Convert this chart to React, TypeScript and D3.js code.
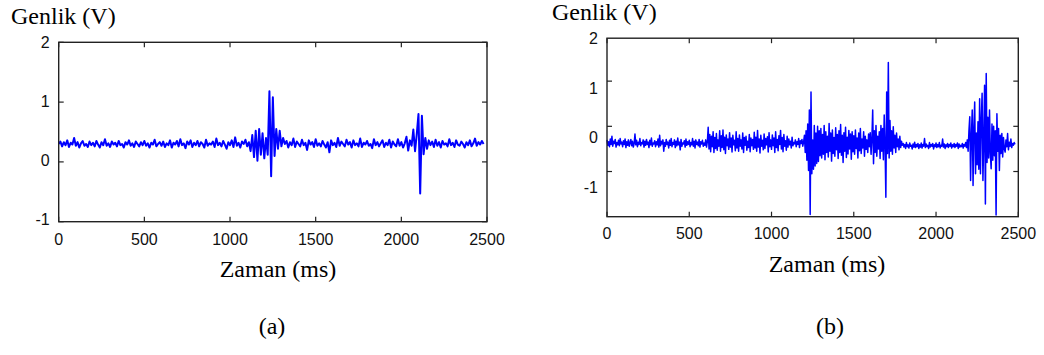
import React from "react";
import * as d3 from "d3";

// ---- data ----
const sampleStepA = 10; // ms between samples of signalA
const sampleStepB = 5; // ms between samples of signalB
const xTicks = [0, 500, 1000, 1500, 2000, 2500];
const yTicksA = [-1, 0, 1, 2];
const yTickMarksB = [-1, 0, 1];
const yTickLabelsB = [-1, 0, 1, 2];
const xLabelText = "Zaman (ms)";
const yLabelText = "Genlik (V)";
const captions = ["(a)", "(b)"];

// amplitude (V), every 10 ms from 0 to 2480 ms
const signalA = [
  0.30, 0.34, 0.26, 0.33, 0.28, 0.36, 0.25, 0.32, 0.29, 0.40,
  0.27, 0.33, 0.24, 0.31, 0.35, 0.27, 0.30, 0.25, 0.34, 0.28,
  0.32, 0.26, 0.35, 0.29, 0.24, 0.33, 0.28, 0.38, 0.27, 0.31,
  0.25, 0.34, 0.29, 0.32, 0.26, 0.35, 0.28, 0.30, 0.24, 0.33,
  0.29, 0.36, 0.27, 0.31, 0.25, 0.34, 0.30, 0.26, 0.33, 0.28,
  0.35, 0.27, 0.31, 0.24, 0.32, 0.29, 0.37, 0.26, 0.30, 0.33,
  0.27, 0.34, 0.25, 0.31, 0.28, 0.36, 0.24, 0.32, 0.29, 0.35,
  0.26, 0.38, 0.28, 0.31, 0.23, 0.34, 0.29, 0.36, 0.25, 0.32,
  0.28, 0.35, 0.26, 0.33, 0.30, 0.24, 0.37, 0.27, 0.31, 0.29,
  0.34, 0.25, 0.39, 0.28, 0.32, 0.26, 0.35, 0.29, 0.22, 0.33,
  0.28, 0.36, 0.25, 0.41, 0.27, 0.32, 0.24, 0.34, 0.30, 0.37,
  0.26, 0.33, 0.18, 0.45, 0.08, 0.52, 0.02, 0.55, 0.12, 0.48,
  0.06, 0.40, 0.12, 1.18, -0.24, 1.08, 0.10, 0.55, 0.22, 0.52,
  0.26, 0.40, 0.30, 0.35, 0.24, 0.33, 0.28, 0.39, 0.25, 0.34,
  0.30, 0.26, 0.37, 0.28, 0.32, 0.20, 0.36, 0.29, 0.33, 0.25,
  0.38, 0.27, 0.31, 0.26, 0.35, 0.29, 0.24, 0.33, 0.16, 0.36,
  0.28, 0.32, 0.25, 0.40, 0.27, 0.34, 0.30, 0.26, 0.37, 0.29,
  0.33, 0.24, 0.36, 0.28, 0.31, 0.26, 0.39, 0.25, 0.32, 0.29,
  0.35, 0.27, 0.30, 0.23, 0.38, 0.28, 0.33, 0.26, 0.31, 0.36,
  0.25, 0.32, 0.28, 0.37, 0.24, 0.34, 0.29, 0.26, 0.38, 0.27,
  0.33, 0.24, 0.31, 0.42, 0.19, 0.36, 0.27, 0.54, 0.18, 0.46,
  0.80, -0.53, 0.77, 0.13, 0.40, 0.22, 0.36, 0.28, 0.34, 0.25,
  0.37, 0.27, 0.33, 0.24, 0.35, 0.29, 0.31, 0.26, 0.38, 0.28,
  0.32, 0.25, 0.36, 0.29, 0.27, 0.34, 0.30, 0.24, 0.33, 0.28,
  0.36, 0.26, 0.31, 0.39, 0.27, 0.33, 0.29, 0.35, 0.30,
];

// amplitude (V), every 5 ms from 0 to 2480 ms (one row = 100 ms)
const signalB = [
  -0.30, -0.42, -0.34, -0.45, -0.28, -0.40, -0.22, -0.44, -0.33, -0.38, -0.29, -0.46, -0.36, -0.41, -0.31, -0.43, -0.27, -0.39, -0.35, -0.45,
  -0.32, -0.40, -0.28, -0.47, -0.34, -0.42, -0.30, -0.44, -0.37, -0.29, -0.43, -0.33, -0.46, -0.38, -0.17, -0.41, -0.31, -0.45, -0.35, -0.40,
  -0.27, -0.43, -0.36, -0.39, -0.30, -0.46, -0.33, -0.42, -0.29, -0.40, -0.35, -0.47, -0.31, -0.41, -0.26, -0.44, -0.37, -0.39, -0.32, -0.45,
  -0.34, -0.41, -0.28, -0.46, -0.20, -0.43, -0.33, -0.39, -0.30, -0.55, -0.36, -0.44, -0.29, -0.40, -0.35, -0.48, -0.31, -0.42, -0.27, -0.45,
  -0.36, -0.40, -0.30, -0.47, -0.33, -0.43, -0.26, -0.41, -0.35, -0.52, -0.29, -0.44, -0.37, -0.39, -0.32, -0.46, -0.28, -0.42, -0.34, -0.40,
  -0.31, -0.45, -0.36, -0.41, -0.27, -0.44, -0.33, -0.48, -0.30, -0.40, -0.35, -0.43, -0.29, -0.46, -0.34, -0.39, -0.31, -0.44, -0.37, -0.42,
  -0.30, -0.46, -0.34, -0.02, -0.50, -0.18, -0.56, -0.22, -0.45, -0.12, -0.58, -0.25, -0.49, -0.16, -0.53, -0.30, -0.44, -0.10, -0.55, -0.21,
  -0.47, -0.08, -0.52, -0.24, -0.60, -0.19, -0.43, -0.28, -0.51, -0.14, -0.46, -0.26, -0.57, -0.20, -0.41, -0.31, -0.54, -0.12, -0.48, -0.27,
  -0.55, -0.19, -0.44, -0.30, -0.50, -0.15, -0.58, -0.25, -0.42, -0.22, -0.53, -0.33, -0.47, -0.18, -0.56, -0.26, -0.43, -0.29, -0.51, -0.13,
  -0.48, -0.24, -0.55, -0.09, -0.46, -0.28, -0.59, -0.20, -0.44, -0.31, -0.52, -0.17, -0.49, -0.27, -0.41, -0.23, -0.57, -0.14, -0.45, -0.30,
  -0.51, -0.19, -0.43, -0.26, -0.58, -0.12, -0.47, -0.29, -0.54, -0.21, -0.40, -0.09, -0.50, -0.25, -0.56, -0.18, -0.44, -0.32, -0.53, -0.22,
  -0.46, -0.28, -0.41, -0.33, -0.48, -0.24, -0.43, -0.36, -0.39, -0.30, -0.45, -0.34, -0.40, -0.27, -0.47, -0.32, -0.38, -0.29, -0.44, -0.35,
  -0.20, -0.58, -0.10, -0.75, 0.05, -0.98, 0.36, -1.95, 0.76, -1.05, -0.30, -0.95, 0.02, -0.88, -0.15, -0.82, 0.00, -0.78, -0.10, -0.65,
  -0.05, -0.70, -0.18, -0.62, 0.02, -0.74, -0.12, -0.58, -0.22, -0.68, 0.06, -0.55, -0.15, -0.77, -0.08, -0.60, -0.25, -0.66, -0.03, -0.52,
  -0.18, -0.71, -0.10, -0.58, 0.04, -0.64, -0.20, -0.80, -0.14, -0.55, -0.02, -0.69, -0.24, -0.61, -0.09, -0.50, -0.17, -0.73, -0.12, -0.56,
  -0.21, -0.62, -0.08, -0.49, -0.26, -0.70, -0.15, -0.54, -0.05, -0.60, -0.28, -0.48, -0.12, -0.66, -0.22, -0.51, -0.30, -0.58, -0.17, -0.45,
  -0.14, -0.62, -0.28, 0.36, -0.83, -0.10, -0.58, 0.02, -0.66, -0.22, -0.50, -0.12, -0.71, 0.02, -0.55, -0.05, -0.74, 0.25, -0.40, -1.57,
  0.76, -0.60, 1.41, -0.70, 0.13, -0.55, -0.10, -0.62, -0.01, -0.48, -0.20, -0.58, -0.15, -0.45, -0.28, -0.52, -0.22, -0.47, -0.33, -0.42,
  -0.38, -0.46, -0.40, -0.49, -0.36, -0.45, -0.41, -0.48, -0.37, -0.44, -0.42, -0.50, -0.39, -0.46, -0.35, -0.47, -0.40, -0.45, -0.38, -0.49,
  -0.41, -0.46, -0.37, -0.48, -0.40, -0.44, -0.27, -0.47, -0.39, -0.45, -0.42, -0.49, -0.36, -0.46, -0.40, -0.44, -0.38, -0.50, -0.41, -0.45,
  -0.37, -0.47, -0.40, -0.45, -0.36, -0.48, -0.42, -0.44, -0.28, -0.46, -0.39, -0.49, -0.41, -0.45, -0.38, -0.47, -0.40, -0.44, -0.37, -0.48,
  -0.41, -0.45, -0.38, -0.47, -0.40, -0.44, -0.37, -0.49, -0.39, -0.46, -0.42, -0.45, -0.38, -0.48, -0.40, -0.44, -0.36, -0.47, -0.30, -0.55,
  -0.10, 0.21, -1.20, -0.20, 0.36, -1.31, -0.05, 0.54, -1.05, -0.15, -0.85, 0.10, -0.95, 0.61, -1.05, 0.15, 0.73, -1.20, -0.30, 0.91,
  -1.72, 1.17, -0.80, 0.20, -0.70, 0.36, -0.60, -0.94, 0.05, -0.75, 0.00, -0.65, -0.10, -1.96, 0.28, -0.55, -0.05, -0.98, -0.20, -0.60,
  -0.16, -0.68, -0.25, -0.50, -0.57, -0.30, -0.45, -0.16, -0.52, -0.35, -0.44, -0.28, -0.47, -0.38, -0.42, -0.36, -0.40,
];

// ---- layout ----
const W = 1044;
const H = 355;
const axisColor = "#222";
const lineColor = "#0000ff";
const tickLen = 5;

type PanelCfg = {
  data: number[];
  step: number;
  strokeW: number;
  left: number;
  right: number;
  top: number;
  bottom: number;
  yDomain: [number, number];
  yTickMarks: number[];
  yTickLabels: number[];
  labelScale: d3.ScaleLinear<number, number>;
  xLabelY: number;
  yTitleX: number;
  yTitleY: number;
  xTitleX: number;
  xTitleY: number;
  caption: string;
  captionX: number;
};

const serifStyle: React.CSSProperties = { fontFamily: "Liberation Serif", fontSize: "24px" };
const sansStyle: React.CSSProperties = { fontFamily: "Liberation Sans", fontSize: "16px" };

function Panel({ cfg }: { cfg: PanelCfg }) {
  const x = d3.scaleLinear().domain([0, 2500]).range([cfg.left, cfg.right]);
  const y = d3.scaleLinear().domain(cfg.yDomain).range([cfg.bottom, cfg.top]);
  const line = d3
    .line<number>()
    .x((_, i) => x(i * cfg.step))
    .y((d) => y(d));
  return (
    <g>
      <rect
        x={cfg.left}
        y={cfg.top}
        width={cfg.right - cfg.left}
        height={cfg.bottom - cfg.top}
        fill="#fff"
      />
      <path d={line(cfg.data) || ""} fill="none" stroke={lineColor} strokeWidth={cfg.strokeW} strokeLinejoin="round" />
      {xTicks.map((t) => (
        <g key={"xt" + t}>
          <line x1={x(t)} x2={x(t)} y1={cfg.bottom} y2={cfg.bottom - tickLen} stroke={axisColor} strokeWidth={1.2} />
          <line x1={x(t)} x2={x(t)} y1={cfg.top} y2={cfg.top + tickLen} stroke={axisColor} strokeWidth={1.2} />
          <text
            x={x(t)}
            y={cfg.xLabelY}
            textAnchor="middle"
            dominantBaseline="central"
            style={sansStyle}
            fill="#111"
          >
            {t}
          </text>
        </g>
      ))}
      {cfg.yTickMarks.map((v) => (
        <g key={"yt" + v}>
          <line x1={cfg.left} x2={cfg.left + tickLen} y1={y(v)} y2={y(v)} stroke={axisColor} strokeWidth={1.2} />
          <line x1={cfg.right} x2={cfg.right - tickLen} y1={y(v)} y2={y(v)} stroke={axisColor} strokeWidth={1.2} />
        </g>
      ))}
      {cfg.yTickLabels.map((v) => (
        <text
          key={"yl" + v}
          x={cfg.left - 9}
          y={cfg.labelScale(v)}
          textAnchor="end"
          dominantBaseline="central"
          style={sansStyle}
          fill="#111"
        >
          {v}
        </text>
      ))}
      <rect
        x={cfg.left}
        y={cfg.top}
        width={cfg.right - cfg.left}
        height={cfg.bottom - cfg.top}
        fill="none"
        stroke={axisColor}
        strokeWidth={1.4}
      />
      <text x={cfg.yTitleX} y={cfg.yTitleY} style={serifStyle} fill="#000">
        {yLabelText}
      </text>
      <text x={cfg.xTitleX} y={cfg.xTitleY} textAnchor="middle" style={serifStyle} fill="#000">
        {xLabelText}
      </text>
      <text x={cfg.captionX} y={334} textAnchor="middle" style={serifStyle} fill="#000">
        {cfg.caption}
      </text>
    </g>
  );
}

export default function App() {
  const panelA: PanelCfg = {
    data: signalA,
    step: sampleStepA,
    strokeW: 2,
    left: 58.7,
    right: 487,
    top: 42.3,
    bottom: 221.7,
    yDomain: [-1, 2],
    yTickMarks: yTicksA,
    yTickLabels: yTicksA,
    labelScale: d3.scaleLinear().domain([-1, 2]).range([219.5, 42.5]),
    xLabelY: 239,
    yTitleX: 11,
    yTitleY: 24,
    xTitleX: 278,
    xTitleY: 277,
    caption: captions[0],
    captionX: 272,
  };
  const panelB: PanelCfg = {
    data: signalB,
    step: sampleStepB,
    strokeW: 1.5,
    left: 607,
    right: 1018.3,
    top: 38.2,
    bottom: 216.7,
    yDomain: [-2, 1.95],
    yTickMarks: yTickMarksB,
    yTickLabels: yTickLabelsB,
    labelScale: d3.scaleLinear().domain([-1, 2]).range([187.5, 38.5]),
    xLabelY: 233,
    yTitleX: 552,
    yTitleY: 20,
    xTitleX: 827,
    xTitleY: 272,
    caption: captions[1],
    captionX: 830,
  };
  return (
    <svg
      width={W}
      height={H}
      viewBox={`0 0 ${W} ${H}`}
      style={{ position: "absolute", left: 0, top: 0, background: "#fff" }}
    >
      <rect x={0} y={0} width={W} height={H} fill="#fff" />
      <Panel cfg={panelA} />
      <Panel cfg={panelB} />
    </svg>
  );
}
